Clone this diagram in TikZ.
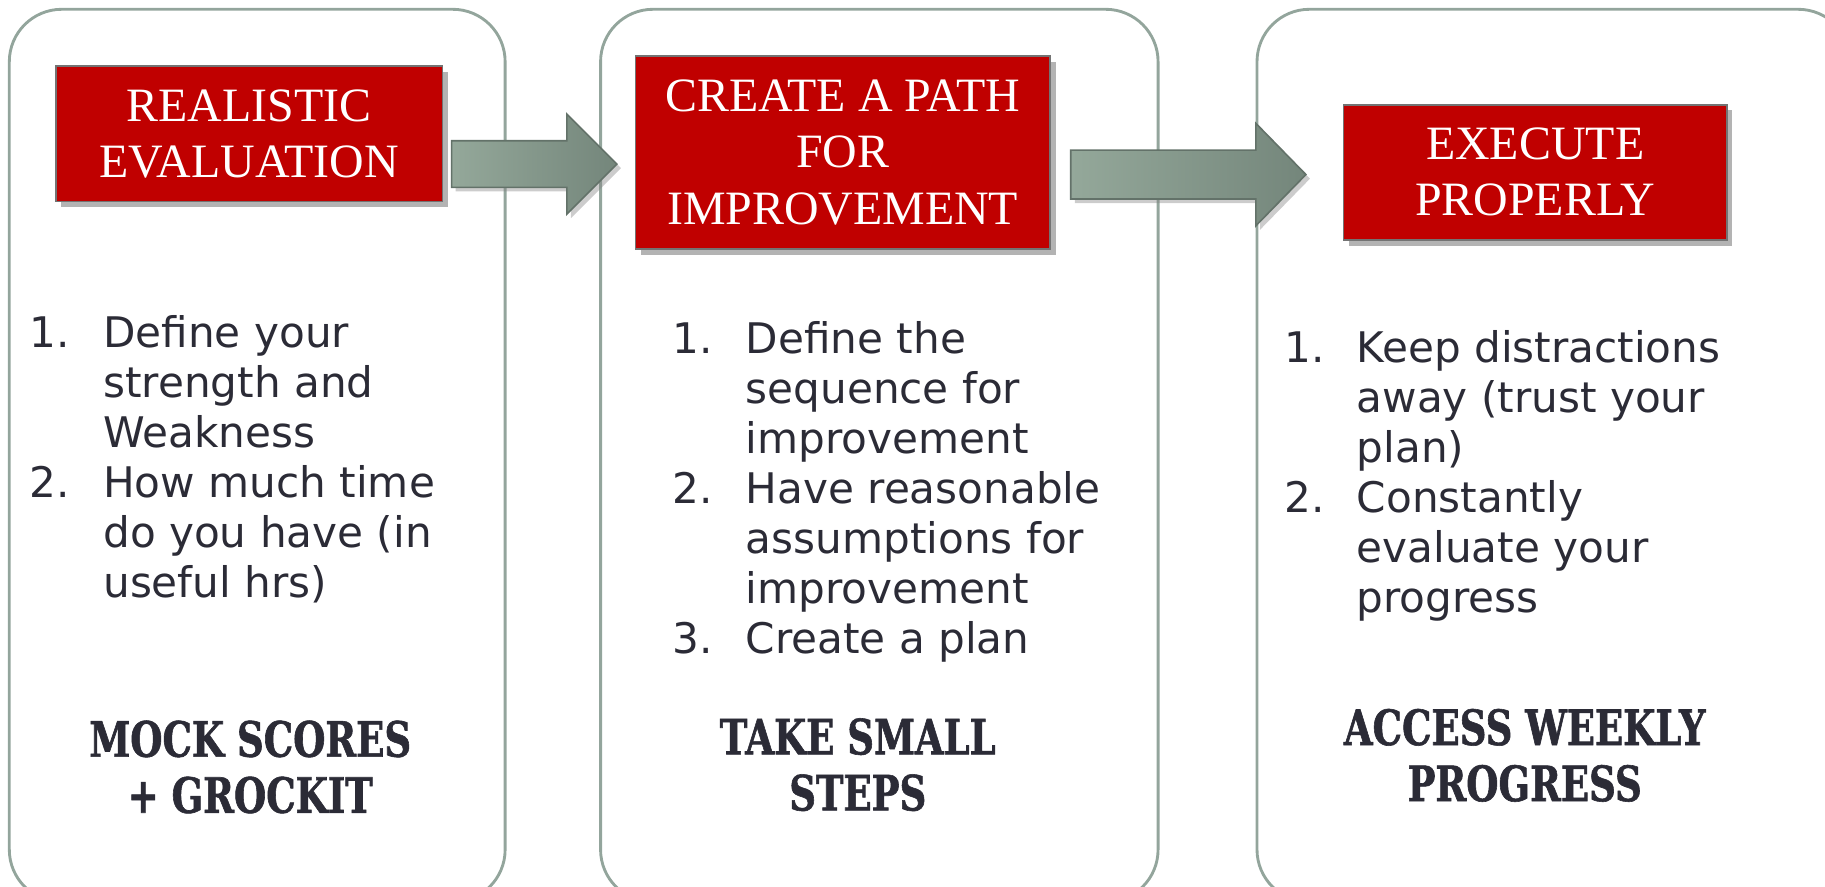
\documentclass[tikz,border=0pt]{standalone}
\usepackage{fontspec}
\setmainfont{Liberation Serif}
\newfontfamily\handfont{DejaVu Sans}
\newfontfamily\stencilfont[FakeStretch=0.76, BoldFeatures={FakeBold=1.2}]{DejaVu Serif}
\usetikzlibrary{shadows}

\definecolor{boxred}{HTML}{C00000}
\definecolor{frame}{HTML}{93A59C}
\definecolor{ink}{HTML}{2B2B36}
\definecolor{arrowlight}{HTML}{94A89A}
\definecolor{arrowdark}{HTML}{74867B}

\tikzset{
  panel/.style={draw=frame, line width=0.7pt, rounded corners=0.45cm},
  title/.style={fill=boxred, draw=black!55, text=white, align=center, inner sep=0pt,
    font=\fontsize{11.7}{13.7}\selectfont,
    drop shadow={shadow xshift=1.4pt, shadow yshift=-1.4pt, opacity=0.6}},
  steps/.style={anchor=north west, inner sep=0pt, text=ink,
    font=\handfont\fontsize{10.3}{12.2}\selectfont},
  motto/.style={text=ink, align=center, inner sep=0pt,
    font=\stencilfont\bfseries\fontsize{11.9}{13.7}\selectfont},
  blockarrow/.style={left color=arrowlight, right color=arrowdark, draw=arrowdark!85!black,
    line width=0.4pt, drop shadow={shadow xshift=1pt, shadow yshift=-1pt, opacity=0.4}}
}

\begin{document}
\begin{tikzpicture}[x=0.01cm,y=-0.01cm]
\useasboundingbox (0,0) rectangle (1568,762);
\clip (0,0) rectangle (1568,762);

% panels
\draw[panel] (8,8) rectangle (434,775);
\draw[panel] (516,8) rectangle (995,775);
\draw[panel] (1080,8) rectangle (1590,775);

% red headings
\node[title, minimum width=3.32cm, minimum height=1.16cm] (realistic) at (214,115) {REALISTIC\\EVALUATION};
\node[title, minimum width=3.56cm, minimum height=1.66cm] (createpath) at (724,131) {CREATE A PATH\\FOR\\IMPROVEMENT};
\node[title, minimum width=3.29cm, minimum height=1.16cm] (execute) at (1319,148) {EXECUTE\\PROPERLY};

% block arrows
\coordinate (a1) at (388,141);
\coordinate (a2) at (920,150);
\draw[blockarrow] (a1) ++(0,-20) -- ++(99,0) -- ++(0,-23) -- ++(43,43) -- ++(-43,43) -- ++(0,-23) -- ++(-99,0) -- cycle;
\draw[blockarrow] (a2) ++(0,-21) -- ++(159,0) -- ++(0,-23) -- ++(43,44) -- ++(-43,44) -- ++(0,-23) -- ++(-159,0) -- cycle;

% lists
\node[steps] (list1) at (25,268) {\begin{tabular}{@{}p{0.63cm}@{}l@{}}
1. & Define your\\
   & strength and\\
   & Weakness\\
2. & How much time\\
   & do you have (in\\
   & useful hrs)
\end{tabular}};
\node[steps] (list2) at (577,273) {\begin{tabular}{@{}p{0.63cm}@{}l@{}}
1. & Define the\\
   & sequence for\\
   & improvement\\
2. & Have reasonable\\
   & assumptions for\\
   & improvement\\
3. & Create a plan
\end{tabular}};
\node[steps] (list3) at (1103,281) {\begin{tabular}{@{}p{0.62cm}@{}l@{}}
1. & Keep distractions\\
   & away (trust your\\
   & plan)\\
2. & Constantly\\
   & evaluate your\\
   & progress
\end{tabular}};

% mottos
\node[motto] (mock) at (215,659) {MOCK SCORES\\+ GROCKIT};
\node[motto] (small) at (737,657) {TAKE SMALL\\STEPS};
\node[motto] (weekly) at (1310,649) {ACCESS WEEKLY\\PROGRESS};

\end{tikzpicture}
\end{document}
